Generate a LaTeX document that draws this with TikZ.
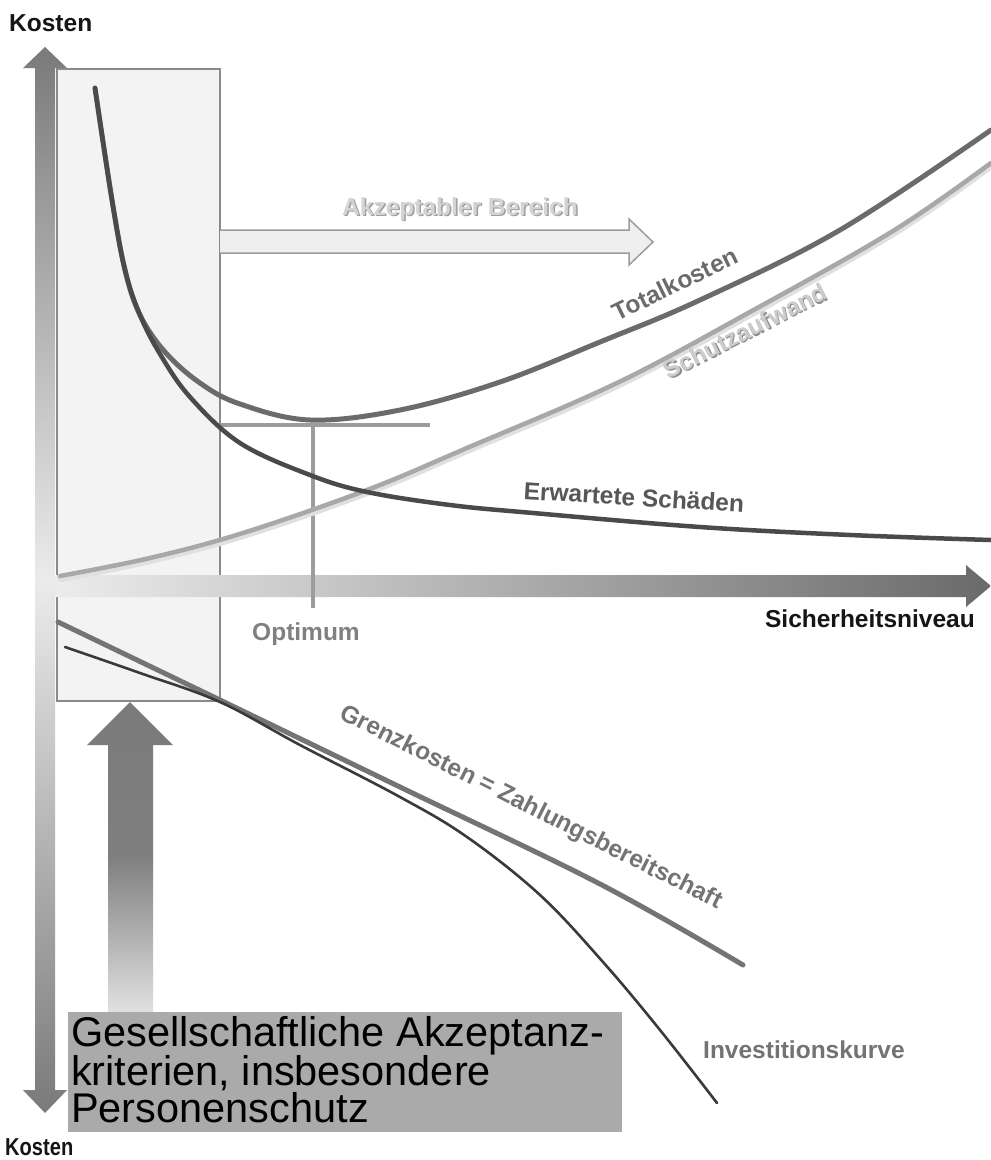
\documentclass[tikz,border=0pt]{standalone}
\usepackage{fontspec}
\setmainfont{Liberation Sans}
\usepackage{graphicx}
\definecolor{tkc}{HTML}{6B6B6B}
\definecolor{esc}{HTML}{4A4A4A}
\definecolor{sac}{HTML}{A8A8A8}
\definecolor{gkc}{HTML}{747474}
\definecolor{ivc}{HTML}{3A3A3A}
\definecolor{optc}{HTML}{9C9C9C}
\definecolor{boxf}{HTML}{F3F3F3}
\definecolor{boxl}{HTML}{8A8A8A}
\definecolor{axd}{HTML}{7A7A7A}
\definecolor{axm}{HTML}{EBEBEB}
\definecolor{axl}{HTML}{EFEFEF}
\definecolor{axr}{HTML}{6A6A6A}
\definecolor{critf}{HTML}{AAAAAA}
\definecolor{txk}{HTML}{151515}
\tikzset{
  lbl/.style={font=\fontsize{24.5}{28}\selectfont\bfseries, inner sep=0pt},
  curve/.style={line cap=round, line join=round},
}
\begin{document}
\begin{tikzpicture}[x=1pt,y=-1pt]
\useasboundingbox (0,0) rectangle (991,1160);
\fill[white] (0,0) rectangle (991,1160);

% acceptable region
\draw[fill=boxf, draw=boxl, line width=1.3pt] (57,69) rectangle (220,701);

% horizontal axis
\shade[left color=axl, right color=axr] (35,575) -- (966,575) -- (966,565) -- (991,586) -- (966,607) -- (966,597) -- (35,597) -- cycle;
% vertical axis
\shade[top color=axd, bottom color=axd, middle color=axm] (45,47) -- (67,68) -- (55,68) -- (55,1090) -- (67,1090) -- (45,1113) -- (23,1090) -- (35,1090) -- (35,68) -- (23,68) -- cycle;

% Akzeptabler Bereich arrow
\draw[fill=axl, draw=optc, line width=1.5pt, line join=miter] (220,230) -- (629,230) -- (629,219) -- (653,242) -- (629,265) -- (629,253) -- (220,253);
\node[lbl, text=black!38, anchor=base] (akzs) at (461.5,216.5) {Akzeptabler Bereich};
\node[lbl, text=black!17, anchor=base] (akz) at (460,215) {Akzeptabler Bereich};

% up arrow
\shade[top color=axd, bottom color=black!12, middle color=black!50] (130,702) -- (173,745) -- (153,745) -- (153,1012) -- (108,1012) -- (108,745) -- (87,745) -- cycle;

% criteria box
\fill[critf] (68,1012) rectangle (622,1132);
\node[anchor=north west, inner sep=0pt, align=left, text=black, font=\fontsize{41.5}{37}\selectfont] (crit) at (71,1016) {Gesellschaftliche Akzeptanz-\\kriterien, insbesondere\\Personenschutz};

% optimum lines
\draw[optc, line width=3.5pt] (220,425) -- (430,425);
\draw[optc, line width=3.5pt] (313,425) -- (313,608);

% Schutzaufwand
\draw[curve, line width=8pt, draw=black!12] plot[smooth, tension=0.6] coordinates {(61,578) (150,560) (243,535) (367,492) (467,450) (617,385) (750,314) (893,233) (991,165)};
\draw[curve, line width=4.5pt, draw=sac] plot[smooth, tension=0.6] coordinates {(60,576) (150,558) (243,533) (367,490) (467,448) (617,383) (750,312) (893,231) (991,163)};

% Totalkosten
\draw[curve, line width=5pt, draw=tkc] plot[smooth, tension=0.6] coordinates {(95,88) (112,200) (125,270) (140,315) (165,352) (200,383) (240,404) (310,420) (400,410) (500,382) (600,342) (700,300) (840,230) (991,130)};

% Erwartete Schaeden
\draw[curve, line width=4.5pt, draw=esc] plot[smooth, tension=0.6] coordinates {(95,88) (112,200) (125,270) (140,315) (160,354) (190,397) (240,443) (310,475) (367,492) (450,505) (533,513) (700,527) (850,535) (991,540)};

% Grenzkosten
\draw[curve, line width=5pt, draw=gkc] plot[smooth, tension=0.6] coordinates {(58,622) (220,700) (400,787) (600,884) (743,965)};

% Investitionskurve
\draw[curve, line width=2.6pt, draw=ivc] plot[smooth, tension=0.6] coordinates {(65,647) (140,673) (220,702) (300,745) (400,797) (467,837) (540,895) (603,962) (660,1030) (717,1103)};

% labels
\node[lbl, text=txk, anchor=base west] (kt) at (9,31) {Kosten};
\node[lbl, text=txk, anchor=base west] (kb) at (5,1155) {\scalebox{0.82}[1]{Kosten}};
\node[lbl, text=txk, anchor=base east] (sn) at (975,627) {Sicherheitsniveau};
\node[lbl, text=black!50, anchor=base] (opt) at (306,640) {Optimum};
\node[lbl, text=tkc, rotate=25.8] (tkl) at (675,284) {Totalkosten};
\node[lbl, text=black!45, rotate=27] (sal2) at (746.2,332.2) {Schutzaufwand};
\node[lbl, text=black!20, rotate=27] (sal) at (745,331) {Schutzaufwand};
\node[lbl, text=black!66, rotate=-3.5] (esl) at (634,497) {Erwartete Schäden};
\node[lbl, text=gkc, rotate=-26.8] (gkl) at (531,808) {Grenzkosten = Zahlungsbereitschaft};
\node[lbl, text=black!55, anchor=base west] (ivl) at (703,1058) {Investitionskurve};
\end{tikzpicture}
\end{document}
